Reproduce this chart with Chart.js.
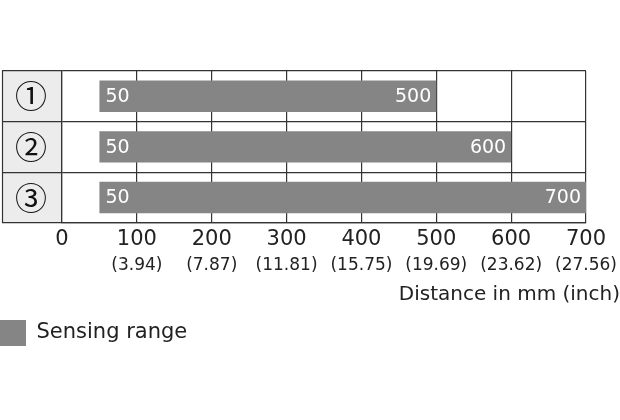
<!DOCTYPE html>
<html>
<head>
<meta charset="utf-8">
<script src="https://cdn.jsdelivr.net/npm/chart.js@4.4.0/dist/chart.umd.min.js"></script>
<style>
  html, body { margin: 0; padding: 0; background: #fff; }
  #wrap { width: 620px; height: 420px; }
</style>
</head>
<body>
<div id="wrap"><canvas id="myChart"></canvas></div>
<script>
const rows = ['①', '②', '③'];
const rangeStart = [50, 50, 50];
const rangeEnd = [500, 600, 700];
const inchLabels = ['', '(3.94)', '(7.87)', '(11.81)', '(15.75)', '(19.69)', '(23.62)', '(27.56)'];
const axisTitle = 'Distance in mm (inch)';
const legendLabel = 'Sensing range';

const GRID = '#333333';
const BAR = '#858585';
const TEXT = '#222222';
const FONT = 'DejaVu Sans';

// grey label column on the left, plus its outer edge
const labelColumn = {
    id: 'labelColumn',
    beforeDraw(chart) {
        const { ctx, chartArea } = chart;
        const y = chart.scales.y;
        ctx.save();
        ctx.fillStyle = '#ececec';
        ctx.fillRect(y.left + 2, chartArea.top, y.right - y.left - 2, chartArea.bottom - chartArea.top);
        ctx.strokeStyle = GRID;
        ctx.lineWidth = 1.2;
        ctx.beginPath();
        ctx.moveTo(y.left + 2.5, chartArea.top);
        ctx.lineTo(y.left + 2.5, chartArea.bottom);
        ctx.stroke();
        ctx.restore();
    }
};

// start / end values written inside each bar
const barValues = {
    id: 'barValues',
    afterDatasetsDraw(chart) {
        const { ctx } = chart;
        const meta = chart.getDatasetMeta(0);
        ctx.save();
        ctx.fillStyle = '#ffffff';
        ctx.font = '19px "' + FONT + '"';
        ctx.textBaseline = 'middle';
        meta.data.forEach((bar, i) => {
            ctx.textAlign = 'left';
            ctx.fillText(String(rangeStart[i]), bar.base + 6, bar.y + 1);
            ctx.textAlign = 'right';
            ctx.fillText(String(rangeEnd[i]), bar.x - 5, bar.y + 1);
        });
        ctx.restore();
    }
};

const data = {
    labels: rows,
    datasets: [{
        label: legendLabel,
        data: rows.map((r, i) => [rangeStart[i], rangeEnd[i]]),
        backgroundColor: BAR,
        borderWidth: 0,
        categoryPercentage: 1,
        barPercentage: 0.62,
    }]
};

const config = {
    type: 'bar',
    data: data,
    plugins: [labelColumn, barValues],
    options: {
        indexAxis: 'y',
        responsive: true,
        maintainAspectRatio: false,
        animation: false,
        layout: {
            padding: { top: 71, left: 0, right: 0, bottom: 64 }
        },
        plugins: {
            tooltip: { enabled: false },
            legend: {
                position: 'bottom',
                align: 'start',
                labels: {
                    boxWidth: 26,
                    boxHeight: 26,
                    padding: 0,
                    color: TEXT,
                    font: { family: FONT, size: 21 }
                }
            },
            title: {
                display: true,
                position: 'bottom',
                align: 'end',
                weight: 500,
                text: axisTitle,
                color: TEXT,
                font: { family: FONT, size: 20, weight: 'normal' },
                padding: { top: 8, bottom: 13 }
            }
        },
        scales: {
            x: {
                type: 'linear',
                position: 'bottom',
                min: 0,
                max: 700,
                grid: { color: GRID, lineWidth: 1.2, drawTicks: false },
                border: { color: GRID, width: 1.2 },
                ticks: {
                    stepSize: 100,
                    padding: 4,
                    color: TEXT,
                    font: { family: FONT, size: 21 }
                }
            },
            x2: {
                type: 'linear',
                axis: 'x',
                position: 'bottom',
                min: 0,
                max: 700,
                grid: { display: false, drawTicks: false },
                border: { display: false },
                ticks: {
                    stepSize: 100,
                    padding: 1,
                    color: TEXT,
                    font: { family: FONT, size: 17, lineHeight: 1.0 },
                    callback: (v, i) => inchLabels[i]
                }
            },
            y: {
                position: 'left',
                grid: { color: GRID, lineWidth: 1.2, offset: true, tickLength: 60 },
                border: { color: GRID, width: 1.2 },
                ticks: {
                    padding: -45,
                    color: '#111111',
                    font: { family: 'Noto Sans CJK JP', size: 32 }
                },
                afterFit(scale) { scale.width = 62; }
            },
            yr: {
                type: 'linear',
                axis: 'y',
                position: 'right',
                display: true,
                grid: { display: false, drawTicks: false },
                border: { display: false },
                ticks: { display: false },
                afterFit(scale) { scale.width = 34; }
            }
        }
    }
};

const myChart = new Chart(document.getElementById('myChart'), config);
</script>
</body>
</html>
